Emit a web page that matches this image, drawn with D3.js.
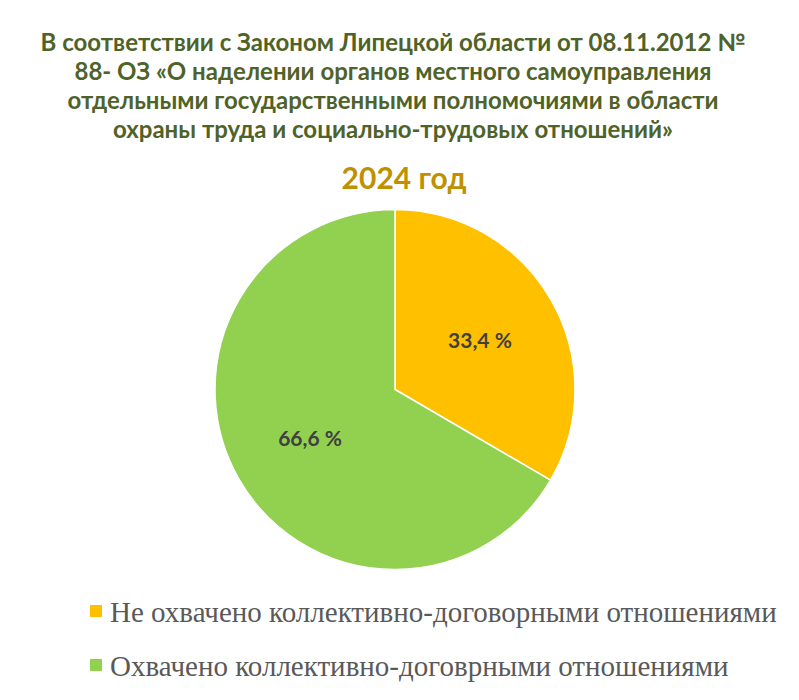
<!DOCTYPE html>
<html>
<head>
<meta charset="utf-8">
<script src="https://cdn.jsdelivr.net/npm/d3@7"></script>
<style>
    body { margin: 0; background: #ffffff; }
</style>
</head>
<body>
<svg id="pieChart" width="799" height="700"></svg>
<script>
// data
var titleLines = [
    "В соответствии с Законом Липецкой области от 08.11.2012 №",
    "88- ОЗ «О наделении органов местного самоуправления",
    "отдельными государственными полномочиями в области",
    "охраны труда и социально-трудовых отношений»"
];
var yearLabel = "2024 год";
var categories = [
    "Не охвачено коллективно-договорными отношениями",
    "Охвачено коллективно-договрными отношениями"
];
var values = [33.4, 66.6];
var colors = ["#FFC000", "#92D050"];

var width = 799,
    height = 700,
    cx = 395,
    cy = 389.5,
    radius = 180;

var svg = d3.select("#pieChart")
    .attr("width", width)
    .attr("height", height);

// title
svg.append("g")
    .selectAll("text")
    .data(titleLines)
    .enter().append("text")
    .attr("x", cx - 2)
    .attr("y", function (d, i) { return 51 + i * 29; })
    .attr("text-anchor", "middle")
    .style("font-family", "Lato, 'Open Sans', sans-serif")
    .style("font-weight", "bold")
    .style("font-size", "24px")
    .style("fill", "#4F6228")
    .text(function (d) { return d; });

svg.append("text")
    .attr("x", cx + 9)
    .attr("y", 189)
    .attr("text-anchor", "middle")
    .style("font-family", "Lato, 'Open Sans', sans-serif")
    .style("font-weight", "bold")
    .style("font-size", "30px")
    .style("fill", "#BF9000")
    .text(yearLabel);

// pie
var arc = d3.arc()
    .outerRadius(radius)
    .innerRadius(0);

var labelArc = d3.arc()
    .outerRadius(98)
    .innerRadius(98);

var pie = d3.pie()
    .sort(null)
    .value(function (d) { return d; });

var g = svg.append("g")
    .attr("transform", "translate(" + cx + "," + cy + ")");

var slices = g.selectAll(".arc")
    .data(pie(values))
    .enter().append("g")
    .attr("class", "arc");

slices.append("path")
    .attr("d", arc)
    .style("fill", function (d) { return colors[d.index]; })
    .style("stroke", "#ffffff")
    .style("stroke-width", 1.5);

slices.append("text")
    .attr("transform", function (d) { return "translate(" + labelArc.centroid(d) + ")"; })
    .attr("dy", ".35em")
    .attr("text-anchor", "middle")
    .style("font-family", "Lato, 'Open Sans', sans-serif")
    .style("font-weight", "bold")
    .style("font-size", "21px")
    .style("fill", "#404040")
    .text(function (d) { return d.data.toFixed(1).replace(".", ",") + " %"; });

// legend
var legend = svg.append("g")
    .selectAll("g")
    .data(categories)
    .enter().append("g")
    .attr("transform", function (d, i) { return "translate(90," + (605 + i * 54) + ")"; });

legend.append("rect")
    .attr("width", 12)
    .attr("height", 12)
    .style("fill", function (d, i) { return colors[i]; });

legend.append("text")
    .attr("x", 20)
    .attr("y", 16.5)
    .style("font-family", "'Liberation Serif', 'Times New Roman', serif")
    .style("font-size", "29px")
    .style("fill", "#595959")
    .text(function (d) { return d; });
</script>
</body>
</html>
